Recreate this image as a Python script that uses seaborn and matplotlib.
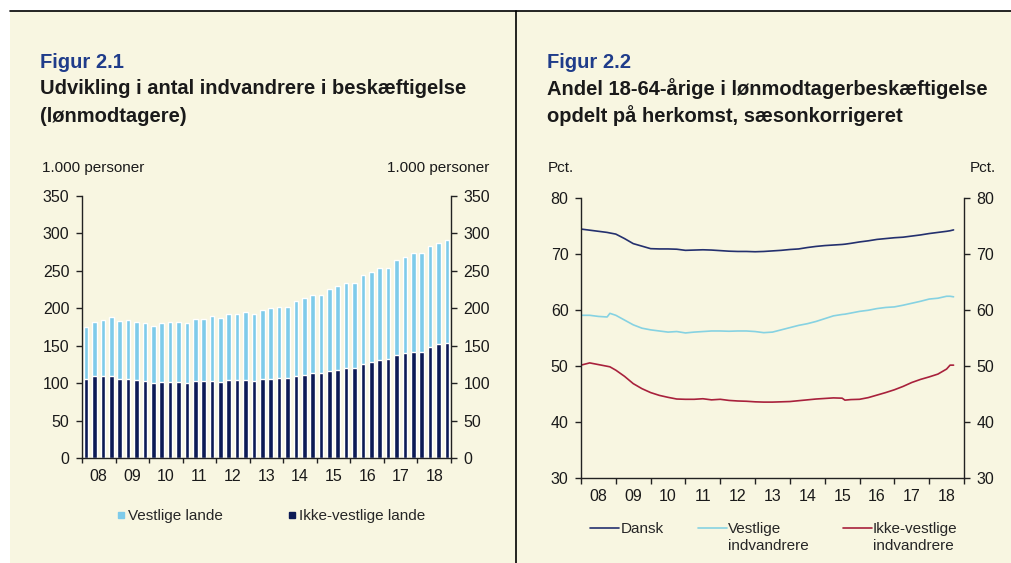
import numpy as np
import pandas as pd
import matplotlib
matplotlib.use("Agg")
import matplotlib.pyplot as plt
import seaborn as sns
from matplotlib.lines import Line2D
from matplotlib.patches import Rectangle
from matplotlib.legend_handler import HandlerLine2D

# Figur 2.1: lønmodtagere, 1.000 personer, kvartaler 2008K1-2018K4
years = list(range(2008, 2019))
year_labels = ["08", "09", "10", "11", "12", "13", "14", "15", "16", "17", "18"]
ikke_vestlige = [106, 109, 109, 110, 106, 106, 104, 103, 100, 102,
                 102, 102, 100, 103, 103, 103, 102, 104, 104, 104,
                 103, 106, 106, 107, 107, 110, 111, 113, 113, 116,
                 118, 120, 120, 125, 128, 131, 132, 137, 140, 142,
                 142, 148, 152, 153]
vestlige = [69, 73, 75, 78, 77, 78, 78, 77, 76, 78,
            79, 80, 80, 82, 83, 86, 85, 88, 88, 91,
            89, 92, 94, 95, 95, 100, 102, 104, 104, 109,
            111, 114, 114, 119, 120, 123, 122, 127, 128, 131,
            131, 135, 135, 138]

# Figur 2.2: andel 18-64-årige i pct., sæsonkorrigeret
tid = [2008.00, 2008.25, 2008.50, 2008.75, 2008.83, 2009.00, 2009.25, 2009.50,
       2009.75, 2010.00, 2010.25, 2010.50, 2010.75, 2011.00, 2011.25, 2011.50,
       2011.75, 2012.00, 2012.25, 2012.50, 2012.75, 2013.00, 2013.25, 2013.50,
       2013.75, 2014.00, 2014.25, 2014.50, 2014.75, 2015.00, 2015.25, 2015.50,
       2015.58, 2015.75, 2016.00, 2016.25, 2016.50, 2016.75, 2017.00, 2017.25,
       2017.50, 2017.75, 2018.00, 2018.25, 2018.50, 2018.60, 2018.70]
dansk = [74.4, 74.2, 74.0, 73.8, 73.7, 73.5, 72.7, 71.8, 71.35, 70.9,
         70.85, 70.85, 70.8, 70.6, 70.65, 70.7, 70.65, 70.55, 70.45, 70.4,
         70.4, 70.35, 70.4, 70.5, 70.6, 70.75, 70.85, 71.1, 71.3, 71.45,
         71.55, 71.65, 71.7, 71.85, 72.1, 72.3, 72.55, 72.7, 72.85, 72.95,
         73.15, 73.35, 73.6, 73.8, 74.0, 74.1, 74.25]
vestlige_indv = [59.0, 59.0, 58.8, 58.7, 59.35, 59.0, 58.15, 57.3, 56.7, 56.4,
                 56.2, 56.0, 56.1, 55.85, 56.0, 56.1, 56.2, 56.2, 56.15, 56.2,
                 56.2, 56.1, 55.9, 56.0, 56.4, 56.8, 57.2, 57.5, 57.9, 58.4,
                 58.9, 59.15, 59.2, 59.4, 59.7, 59.9, 60.2, 60.4, 60.5, 60.8,
                 61.15, 61.5, 61.9, 62.05, 62.4, 62.4, 62.3]
ikke_vestlige_indv = [50.1, 50.5, 50.2, 49.9, 49.8, 49.2, 48.1, 46.8, 45.9, 45.2,
                      44.7, 44.35, 44.05, 44.0, 44.0, 44.1, 43.9, 44.0, 43.8, 43.7,
                      43.65, 43.55, 43.5, 43.5, 43.55, 43.6, 43.75, 43.9, 44.05, 44.15,
                      44.25, 44.2, 43.85, 43.95, 44.0, 44.3, 44.75, 45.2, 45.7, 46.3,
                      47.0, 47.55, 48.0, 48.5, 49.4, 50.1, 50.1]

cream = "#f8f6e1"
light_blue = "#7ecbea"
navy = "#0c1a55"
c_dansk = "#24306e"
c_vest = "#86d2e2"
c_ikke = "#a8213c"
fig_blue = "#1f3c8a"
txt = "#1a1a1a"

sns.set_theme(style="ticks")
plt.rcParams["font.family"] = ["Liberation Sans", "DejaVu Sans"]
plt.rcParams["axes.edgecolor"] = "#222222"
plt.rcParams["xtick.color"] = "#222222"
plt.rcParams["ytick.color"] = "#222222"
plt.rcParams["xtick.labelcolor"] = txt
plt.rcParams["ytick.labelcolor"] = txt

fig = plt.figure(figsize=(10.12, 5.63), dpi=100, facecolor="white")
fig.add_artist(Rectangle((10 / 1012, 0), 1, 1 - 11 / 563, transform=fig.transFigure,
                         facecolor=cream, edgecolor="none", zorder=-10))
fig.add_artist(Line2D([10 / 1012, 1], [1 - 11 / 563, 1 - 11 / 563], transform=fig.transFigure,
                      color="black", lw=1.2))
fig.add_artist(Line2D([516 / 1012, 516 / 1012], [0, 1 - 11 / 563], transform=fig.transFigure,
                      color="black", lw=1.2))

# ---------- Figur 2.1 ----------
df1 = pd.DataFrame({
    "x": [y + (q - 0.5) / 4 for y in years for q in range(1, 5)],
    "ikke": ikke_vestlige,
    "vest": vestlige,
})
df1["total"] = df1["ikke"] + df1["vest"]

ax1 = fig.add_axes([82 / 1012, 105 / 563, 369 / 1012, 262.3 / 563])
ax1.set_facecolor("none")
sns.barplot(data=df1, x="x", y="total", native_scale=True, width=0.55, color=light_blue,
            saturation=1, errorbar=None, ax=ax1)
sns.barplot(data=df1, x="x", y="ikke", native_scale=True, width=0.55, color=navy,
            saturation=1, errorbar=None, ax=ax1)
ax1.set_xlim(2008, 2019)
ax1.set_ylim(0, 350)
ax1.set_yticks(range(0, 351, 50))
ax1.set_xticks(range(2008, 2020))
ax1.set_xticklabels([])
ax1.set_xticks([y + 0.5 for y in years], minor=True)
ax1.set_xticklabels(year_labels, minor=True)
ax1.tick_params(axis="x", which="major", direction="out", length=3.5, width=1)
ax1.tick_params(axis="x", which="minor", length=0, pad=8, labelsize=11.5)
ax1.tick_params(axis="y", left=True, right=True, labelleft=True, labelright=True,
                direction="out", length=4, width=1, labelsize=11.5, pad=5)
ax1.set_xlabel("")
ax1.set_ylabel("")
for s in ["left", "right", "bottom"]:
    ax1.spines[s].set_visible(True)
    ax1.spines[s].set_linewidth(1)
ax1.spines["top"].set_visible(False)

fig.text(40 / 1012, 1 - 63 / 563, "Figur 2.1", fontsize=14.5, fontweight="bold",
         color=fig_blue, va="center", ha="left")
fig.text(40 / 1012, 1 - 89 / 563, "Udvikling i antal indvandrere i beskæftigelse",
         fontsize=14.5, fontweight="bold", color=txt, va="center", ha="left")
fig.text(40 / 1012, 1 - 116 / 563, "(lønmodtagere)",
         fontsize=14.5, fontweight="bold", color=txt, va="center", ha="left")
fig.text(42 / 1012, 1 - 168 / 563, "1.000 personer", fontsize=11, color=txt,
         va="center", ha="left")
fig.text(489 / 1012, 1 - 168 / 563, "1.000 personer", fontsize=11, color=txt,
         va="center", ha="right")

h1 = [Line2D([], [], marker="s", ls="none", markersize=5, color=light_blue),
      Line2D([], [], marker="s", ls="none", markersize=5, color=navy)]
fig.legend(h1, ["Vestlige lande", "Ikke-vestlige lande"], loc="center",
           bbox_to_anchor=(271 / 1012, 1 - 516 / 563), ncol=2, frameon=False,
           fontsize=11, handlelength=0.5, handletextpad=0.2, columnspacing=4.3)

# ---------- Figur 2.2 ----------
df2 = pd.DataFrame({
    "tid": tid * 3,
    "pct": dansk + vestlige_indv + ikke_vestlige_indv,
    "serie": ["Dansk"] * len(tid) + ["Vestlige"] * len(tid) + ["Ikke-vestlige"] * len(tid),
})
palette = {"Dansk": c_dansk, "Vestlige": c_vest, "Ikke-vestlige": c_ikke}

ax2 = fig.add_axes([581 / 1012, 85.3 / 563, 383 / 1012, 280 / 563])
ax2.set_facecolor("none")
sns.lineplot(data=df2, x="tid", y="pct", hue="serie", palette=palette, linewidth=1.2,
             legend=False, ax=ax2)
ax2.set_xlim(2008, 2019)
ax2.set_ylim(30, 80)
ax2.set_yticks(range(30, 81, 10))
ax2.set_xticks(range(2008, 2020))
ax2.set_xticklabels([])
ax2.set_xticks([y + 0.5 for y in years], minor=True)
ax2.set_xticklabels(year_labels, minor=True)
ax2.tick_params(axis="x", which="major", direction="out", length=4, width=1)
ax2.tick_params(axis="x", which="minor", length=0, pad=8, labelsize=11.5)
ax2.tick_params(axis="y", left=True, right=True, labelleft=True, labelright=True,
                direction="out", length=4, width=1, labelsize=11.5, pad=5)
ax2.set_xlabel("")
ax2.set_ylabel("")
for s in ["left", "right", "bottom"]:
    ax2.spines[s].set_visible(True)
    ax2.spines[s].set_linewidth(1)
ax2.spines["top"].set_visible(False)

fig.text(547 / 1012, 1 - 63 / 563, "Figur 2.2", fontsize=14.5, fontweight="bold",
         color=fig_blue, va="center", ha="left")
fig.text(547 / 1012, 1 - 89 / 563, "Andel 18-64-årige i lønmodtagerbeskæftigelse",
         fontsize=14.5, fontweight="bold", color=txt, va="center", ha="left")
fig.text(547 / 1012, 1 - 116 / 563, "opdelt på herkomst, sæsonkorrigeret",
         fontsize=14.5, fontweight="bold", color=txt, va="center", ha="left")
fig.text(548 / 1012, 1 - 168 / 563, "Pct.", fontsize=11, color=txt, va="center", ha="left")
fig.text(996 / 1012, 1 - 168 / 563, "Pct.", fontsize=11, color=txt, va="center", ha="right")


class TopLine(HandlerLine2D):
    # put the line next to the first text line
    def create_artists(self, legend, orig_handle, xdescent, ydescent, width, height,
                       fontsize, trans):
        arts = super().create_artists(legend, orig_handle, xdescent, ydescent, width,
                                      height, fontsize, trans)
        for a in arts:
            a.set_ydata(np.asarray(a.get_ydata()) + 0.65 * fontsize)
        return arts


h2 = [Line2D([], [], color=c_dansk, lw=1.2),
      Line2D([], [], color=c_vest, lw=1.2),
      Line2D([], [], color=c_ikke, lw=1.2)]
leg2 = fig.legend(h2, ["Dansk\n ", "Vestlige\nindvandrere", "Ikke-vestlige\nindvandrere"],
                  loc="center", bbox_to_anchor=(774 / 1012, 1 - 537.5 / 563), ncol=3,
                  frameon=False, fontsize=11, handlelength=1.9, handletextpad=0.1,
                  columnspacing=2.2, handler_map={Line2D: TopLine()})
for t in leg2.get_texts():
    t.set_linespacing(1.3)

fig.savefig("out.png", dpi=100, facecolor="white")
